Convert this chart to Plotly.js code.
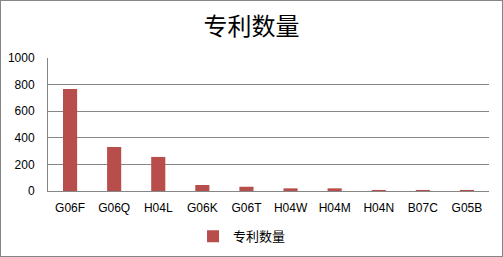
<!DOCTYPE html>
<html><head><meta charset="utf-8">
<script src="https://cdn.plot.ly/plotly-3.0.1.min.js"></script>
<style>
html,body{margin:0;padding:0;background:#fff;}
#chart{width:501px;height:255px;border:1px solid #868686;}
</style></head>
<body><div id="chart"></div>
<script>
const categories = ["G06F","G06Q","H04L","G06K","G06T","H04W","H04M","H04N","B07C","G05B"];
const values = [767, 331, 256, 45, 32, 20, 20, 8, 8, 8];
const seriesName = "专利数量";
const yTicks = [0, 200, 400, 600, 800, 1000];

const trace = {
  type: "bar",
  x: categories,
  y: values,
  name: seriesName,
  marker: {color: "#b84e4c"},
  width: 0.32,
  showlegend: true
};
const layout = {
  width: 501, height: 255,
  margin: {l: 47, r: 13, t: 57, b: 65, autoexpand: false},
  paper_bgcolor: "#fff", plot_bgcolor: "#fff",
  title: {text: "专利数量", x: 0.5, xanchor: "center", y: 0.9, yanchor: "middle",
          font: {family: "Noto Sans CJK SC", size: 24, color: "#000"}},
  font: {family: "Liberation Sans, Arial", size: 12, color: "#000"},
  xaxis: {showline: true, linecolor: "#868686", linewidth: 1, ticks: "", showgrid: false,
          tickfont: {size: 12}, ticklabelstandoff: 6},
  yaxis: {range: [0, 1000], tickvals: yTicks, showgrid: true, gridcolor: "#868686", gridwidth: 1,
          showline: true, linecolor: "#868686", linewidth: 1, ticks: "", zeroline: false,
          tickfont: {size: 12}, ticklabelstandoff: 10},
  showlegend: true,
  legend: {orientation: "h", x: 0.44, xanchor: "center", y: -0.34, yanchor: "middle",
           font: {family: "Noto Sans CJK SC", size: 13}, itemwidth: 30}
};
Plotly.newPlot("chart", [trace], layout, {displayModeBar: false, staticPlot: true});
</script></body></html>
